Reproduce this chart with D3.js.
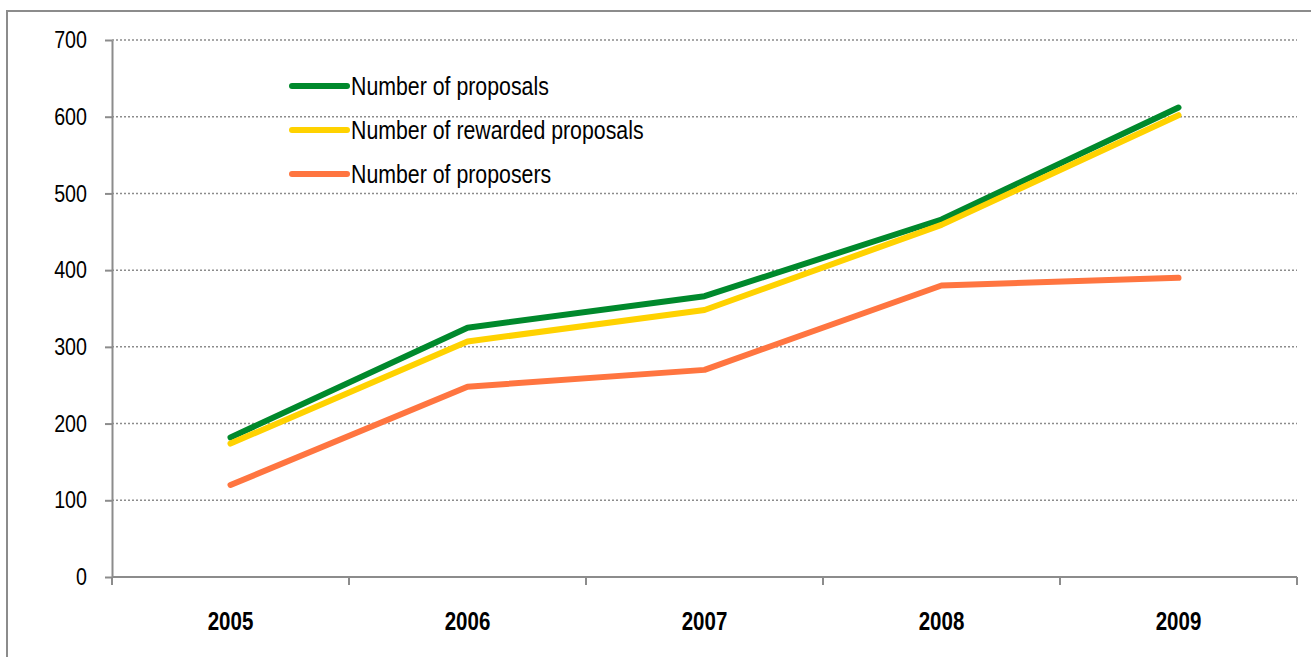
<!DOCTYPE html>
<html>
<head>
<meta charset="utf-8">
<script src="https://d3js.org/d3.v7.min.js"></script>
<style>
  body {
    margin: 0;
    font-family: "Liberation Sans", Arial, sans-serif;
  }

  .frame {
    fill: none;
    stroke: #8c8c8c;
    stroke-width: 2px;
  }

  .grid line {
    stroke: #8c8c8c;
    stroke-width: 1.5px;
    stroke-dasharray: 2px 2px;
  }

  .axis path, .axis line {
    stroke: #8c8c8c;
    stroke-width: 2px;
  }

  .axis text {
    fill: #000;
  }

  .y.axis text {
    font-size: 24px;
  }

  .x.axis text {
    font-size: 25px;
    font-weight: bold;
  }

  .series {
    fill: none;
    stroke-width: 6px;
    stroke-linejoin: round;
    stroke-linecap: round;
  }

  .legend text {
    font-size: 26px;
    fill: #000;
  }
</style>
</head>
<body>

<script>
  // values
  var years = ["2005", "2006", "2007", "2008", "2009"];
  var proposals = [182, 325, 366, 466, 612];
  var rewarded = [174, 307, 348, 459, 602];
  var proposers = [120, 248, 270, 380, 390];
  var yTicks = [0, 100, 200, 300, 400, 500, 600, 700];

  var seriesNames = ["Number of proposals", "Number of rewarded proposals", "Number of proposers"];
  var seriesColors = ["#00892c", "#ffd200", "#ff7540"];
  var seriesValues = [proposals, rewarded, proposers];

  var W = 1311, H = 657;
  var margin = {top: 40, left: 112};
  var width = 1297 - margin.left,
      height = 577 - margin.top;

  // no narrow font installed, so squeeze the regular one
  var squeeze = 0.82;
  function narrow(sel) {
    sel.each(function() {
      var t = d3.select(this);
      var x0 = +t.attr("x") || 0;
      t.attr("x", x0 / squeeze).attr("transform", `scale(${squeeze},1)`);
    });
  }

  var svg = d3.select("body").append("svg")
      .attr("width", W)
      .attr("height", H);

  svg.append("rect")
      .attr("class", "frame")
      .attr("x", 7)
      .attr("y", 11)
      .attr("width", W + 20)
      .attr("height", H + 20);

  var g = svg.append("g")
      .attr("transform", `translate(${margin.left},${margin.top})`);

  var x = d3.scaleBand()
      .domain(years)
      .range([0, width]);

  var y = d3.scaleLinear()
      .domain([0, 700])
      .range([height, 0]);

  // dotted gridlines
  g.append("g")
      .attr("class", "grid")
    .selectAll("line")
      .data(yTicks.filter(d => d > 0))
    .enter().append("line")
      .attr("x1", 0)
      .attr("x2", width)
      .attr("y1", d => y(d))
      .attr("y2", d => y(d));

  var yAxis = d3.axisLeft(y)
      .tickValues(yTicks)
      .tickSize(7)
      .tickSizeOuter(0)
      .tickPadding(18);

  g.append("g")
      .attr("class", "y axis")
      .call(yAxis)
    .selectAll("text")
      .call(narrow);

  // x axis: ticks sit at the band edges, labels in the band centres
  var edges = years.map(d => x(d)).concat([width]);

  var xg = g.append("g")
      .attr("class", "x axis")
      .attr("transform", `translate(0,${height})`);

  xg.append("path")
      .attr("d", `M0,0H${width}`);

  xg.selectAll("line")
      .data(edges)
    .enter().append("line")
      .attr("x1", d => d)
      .attr("x2", d => d)
      .attr("y1", 0)
      .attr("y2", 8);

  xg.selectAll("text")
      .data(years)
    .enter().append("text")
      .attr("x", d => x(d) + x.bandwidth() / 2)
      .attr("y", 53)
      .attr("text-anchor", "middle")
      .text(d => d)
      .call(narrow);

  var line = d3.line()
      .x((d, i) => x(years[i]) + x.bandwidth() / 2)
      .y(d => y(d));

  g.selectAll(".series")
      .data(seriesValues)
    .enter().append("path")
      .attr("class", "series")
      .attr("stroke", (d, i) => seriesColors[i])
      .attr("d", line);

  // legend
  var legend = svg.append("g")
      .attr("class", "legend")
      .attr("transform", "translate(292,86)");

  var item = legend.selectAll("g")
      .data(seriesNames)
    .enter().append("g")
      .attr("transform", (d, i) => `translate(0,${i * 44})`);

  item.append("line")
      .attr("x1", 0)
      .attr("x2", 55)
      .attr("stroke", (d, i) => seriesColors[i])
      .attr("stroke-width", 6)
      .attr("stroke-linecap", "round");

  item.append("text")
      .attr("x", 59)
      .attr("y", 9)
      .text(d => d)
      .call(narrow);
</script>
</body>
</html>
